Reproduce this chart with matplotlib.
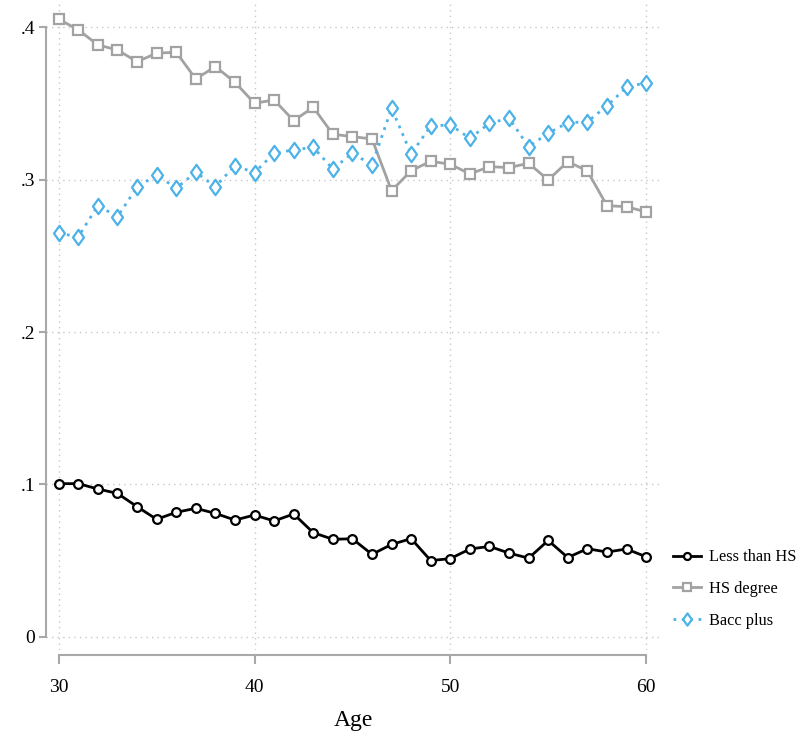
import matplotlib
matplotlib.use("Agg")
import matplotlib.pyplot as plt
from matplotlib.path import Path

plt.rcParams['font.family'] = ['Liberation Serif', 'DejaVu Serif']

# share of adults by education group, ages 30-60
age = list(range(30, 61))
less_hs = [0.1005, 0.1005, 0.0970, 0.0941, 0.0854, 0.0771, 0.0817, 0.0843, 0.0810, 0.0766,
           0.0799, 0.0760, 0.0806, 0.0683, 0.0640, 0.0643, 0.0541, 0.0606, 0.0644, 0.0500,
           0.0513, 0.0576, 0.0593, 0.0549, 0.0516, 0.0632, 0.0520, 0.0578, 0.0556, 0.0576,
           0.0525]
hs_degree = [0.4054, 0.3984, 0.3885, 0.3852, 0.3775, 0.3831, 0.3837, 0.3662, 0.3743, 0.3640,
             0.3502, 0.3524, 0.3388, 0.3476, 0.3299, 0.3283, 0.3268, 0.2928, 0.3060, 0.3121,
             0.3102, 0.3038, 0.3086, 0.3080, 0.3108, 0.2999, 0.3119, 0.3058, 0.2830, 0.2823,
             0.2789]
bacc_plus = [0.2649, 0.2626, 0.2830, 0.2758, 0.2951, 0.3032, 0.2944, 0.3049, 0.2955, 0.3093,
             0.3047, 0.3174, 0.3196, 0.3213, 0.3071, 0.3174, 0.3097, 0.3469, 0.3169, 0.3353,
             0.3360, 0.3272, 0.3371, 0.3404, 0.3217, 0.3305, 0.3375, 0.3380, 0.3485, 0.3607,
             0.3638]

xticks = [30, 40, 50, 60]
yticks = [0, 0.1, 0.2, 0.3, 0.4]
ytick_labels = ["0", ".1", ".2", ".3", ".4"]

gray = '#a2a2a2'
blue = '#4cb2e8'
axis_gray = '#a8a8a8'

# slightly narrow diamond, like Stata's hollow diamond
diamond = Path([(0, 1), (0.72, 0), (0, -1), (-0.72, 0), (0, 1)],
               [Path.MOVETO, Path.LINETO, Path.LINETO, Path.LINETO, Path.CLOSEPOLY])

fig = plt.figure(figsize=(8.04, 7.33), dpi=100)
ax = fig.add_axes([46/804, 83/733, 614/804, 650/733])

ax.plot(age, less_hs, color='black', lw=2, marker='o', ms=6.3, mew=1.6,
        mfc='white', mec='black', label='Less than HS', zorder=3)
ax.plot(age, hs_degree, color=gray, lw=2, marker='s', ms=7, mew=1.6,
        mfc='white', mec=gray, label='HS degree', zorder=3)
ax.plot(age, bacc_plus, color=blue, lw=2, ls=(0, (1, 2)), marker=diamond, ms=11, mew=1.6,
        mfc='white', mec=blue, label='Bacc plus', zorder=3)

ax.set_xlim(29.35, 60.71)
ax.set_ylim(-0.0087, 0.418)
ax.set_xticks(xticks)
ax.set_yticks(yticks)
ax.set_yticklabels(ytick_labels)

ax.grid(True, ls=(0, (1, 3)), color='#c8c8c8', lw=1)
ax.set_axisbelow(True)

for side in ['top', 'right']:
    ax.spines[side].set_visible(False)
ax.spines['left'].set_bounds(0, 0.4)
ax.spines['bottom'].set_bounds(30, 60)
ax.spines['bottom'].set_position(('outward', 3.6))
for side in ['left', 'bottom']:
    ax.spines[side].set_color(axis_gray)
    ax.spines[side].set_linewidth(1.5)

ax.tick_params(axis='y', direction='out', length=5, width=1.5, color=axis_gray,
               labelsize=14, pad=3)
ax.tick_params(axis='x', direction='out', length=6.5, width=1.5, color=axis_gray,
               labelsize=14, pad=11)

ax.set_xlabel('Age', fontsize=17, labelpad=10)

ax.legend(loc='center left', bbox_to_anchor=(673/804, 1 - 589/733),
          bbox_transform=fig.transFigure, frameon=False, fontsize=11.8,
          borderaxespad=0, borderpad=0, handlelength=1.7, handletextpad=0.5,
          labelspacing=0.95, markerscale=0.8)

fig.savefig('out.png', dpi=100)
